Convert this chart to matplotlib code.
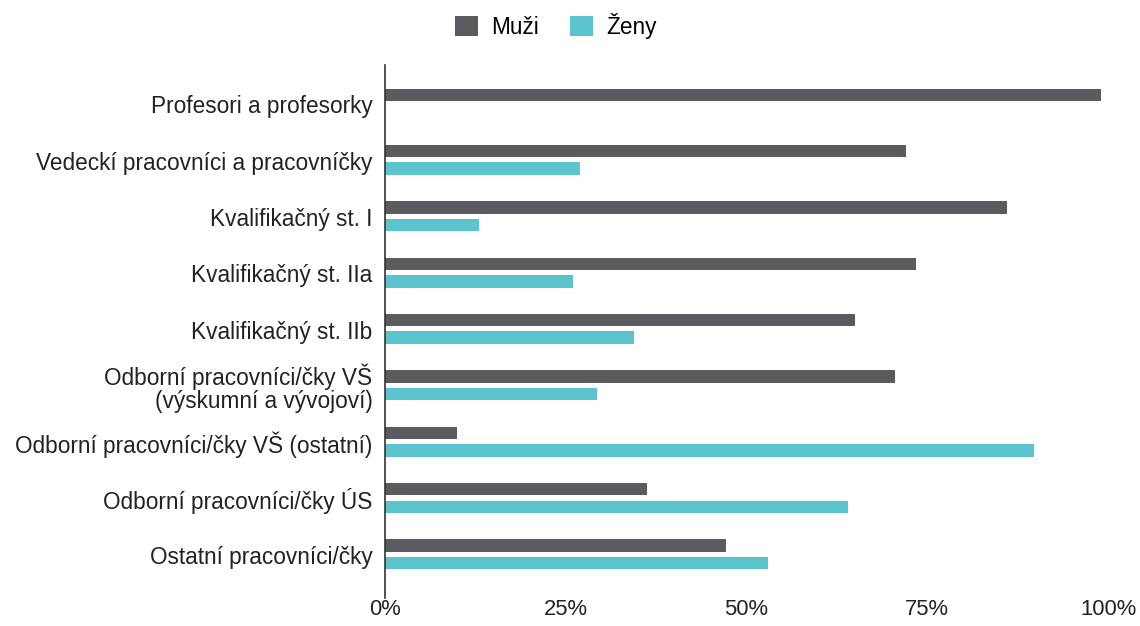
import matplotlib
matplotlib.use("Agg")
import matplotlib.pyplot as plt
import numpy as np

categories = [
    "Profesori a profesorky",
    "Vedeckí pracovníci a pracovníčky",
    "Kvalifikačný st. I",
    "Kvalifikačný st. IIa",
    "Kvalifikačný st. IIb",
    "Odborní pracovníci/čky VŠ\n(výskumní a vývojoví)",
    "Odborní pracovníci/čky VŠ (ostatní)",
    "Odborní pracovníci/čky ÚS",
    "Ostatní pracovníci/čky",
]
muzi = [99, 72, 86, 73.5, 65, 70.5, 10, 36.3, 47.2]
zeny = [0, 27, 13, 26, 34.5, 29.3, 89.7, 64, 53]
xticks = [0, 25, 50, 75, 100]
xticklabels = ["0%", "25%", "50%", "75%", "100%"]

plt.rcParams['font.family'] = ['Liberation Sans', 'DejaVu Sans']

c_m = '#5b5b5f'
c_z = '#5cc4cd'
fs = 16.3

fig = plt.figure(figsize=(11.4, 6.26), dpi=100)
ax = fig.add_axes([385/1140, 1-598/626, (1108-385)/1140, (598-65)/626])

y = np.arange(len(categories))
h = 0.22
ax.barh(y - 0.17, muzi, height=h, color=c_m, label='Muži')
ax.barh(y + 0.14, zeny, height=h, color=c_z, label='Ženy')

ax.set_ylim(8.76, -0.7)
ax.set_xlim(0, 100)
ax.set_yticks(y)
ax.set_yticklabels(categories, fontsize=fs, color='#222222')
ax.get_yticklabels()[5].set_linespacing(0.95)
ax.set_xticks(xticks)
ax.set_xticklabels(xticklabels, fontsize=15.8, color='#222222')
ax.tick_params(axis='both', length=0)
ax.tick_params(axis='y', pad=9)
ax.tick_params(axis='x', pad=1)
for s in ['top', 'right', 'bottom']:
    ax.spines[s].set_visible(False)
ax.spines['left'].set_color('#333333')
ax.spines['left'].set_linewidth(1.2)

fig.legend(loc='center', bbox_to_anchor=(556/1140, 1-26/626), ncol=2, frameon=False,
           fontsize=fs, handlelength=1.0, handleheight=1.0, columnspacing=1.4,
           handletextpad=0.57)

fig.savefig('out.png', dpi=100, facecolor='white')
